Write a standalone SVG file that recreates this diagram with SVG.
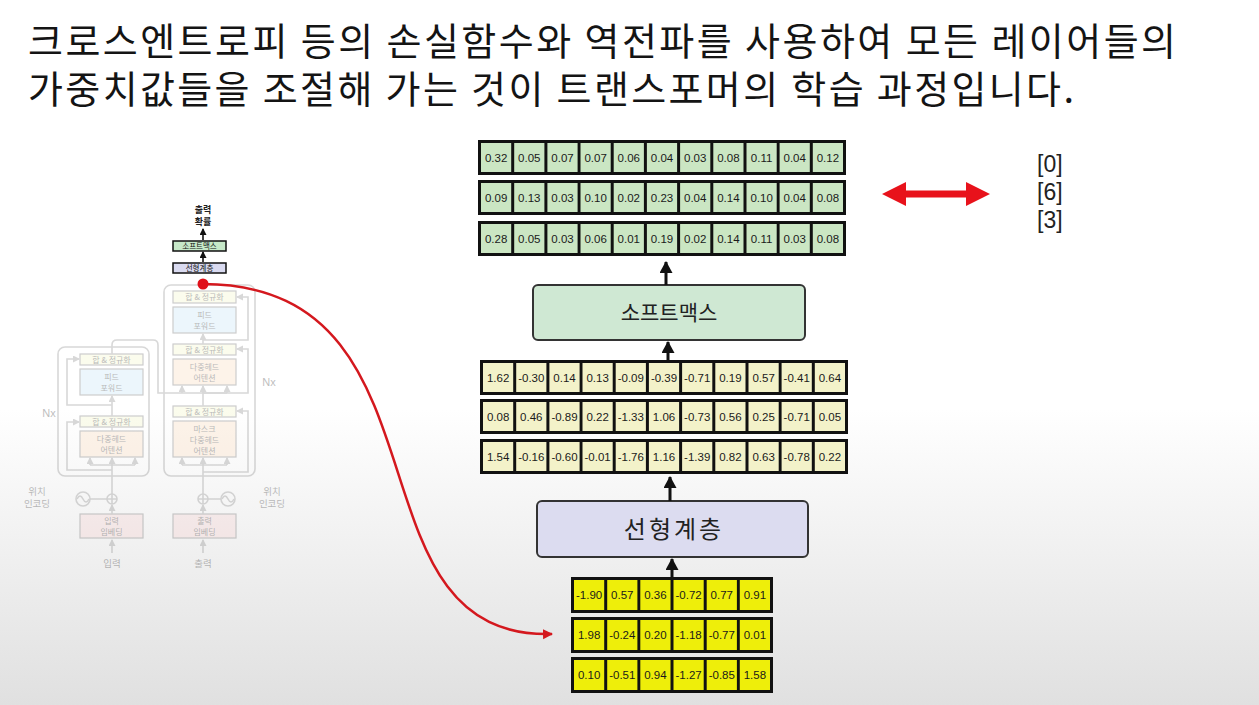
<svg xmlns="http://www.w3.org/2000/svg" width="1259" height="705" viewBox="0 0 1259 705">
<style>
.kr{font-family:"Noto Sans CJK KR","Noto Sans",sans-serif}
.title{font-size:38px;fill:#141414}
.cell{font-family:"Liberation Sans","Noto Sans",sans-serif;font-size:11.5px;fill:#1a1a1a;text-anchor:middle}
.bg{fill:#111}
.gc{fill:#cbe6c3}
.yc{fill:#f3f2c9}
.bc{fill:#eeee0a}
.arr{stroke:#111;stroke-width:3;fill:none}
.big{fill:#222;text-anchor:middle}
.fl{stroke:#888;stroke-width:1.6;fill:none}
.ft{font-family:"Noto Sans CJK KR",sans-serif;font-size:8px;fill:#222;text-anchor:middle}
.an{fill:#f3f6c8;stroke:#666;stroke-width:1.2}
.ff{fill:#c6e6f6;stroke:#666;stroke-width:1.2}
.mh{fill:#fbdcbd;stroke:#666;stroke-width:1.2}
.em{fill:#f6d0cf;stroke:#666;stroke-width:1.2}
.lab{font-family:"Noto Sans CJK KR",sans-serif;font-size:9.5px;fill:#333;text-anchor:middle}
.idx{font-family:"Liberation Sans","Noto Sans",sans-serif;font-size:23px;fill:#222}
</style>
<defs>
<linearGradient id="bgg" x1="0" y1="0" x2="0" y2="1">
<stop offset="0" stop-color="#ffffff"/>
<stop offset="0.58" stop-color="#ffffff"/>
<stop offset="1" stop-color="#e0e0e0"/>
</linearGradient>
<marker id="ah" markerUnits="userSpaceOnUse" markerWidth="14" markerHeight="14" refX="11" refY="6.5" orient="auto">
<path d="M0,0 L12,6.5 L0,13 z" fill="#111"/>
</marker>
<marker id="ahg" markerUnits="userSpaceOnUse" markerWidth="8" markerHeight="8" refX="6" refY="3.5" orient="auto">
<path d="M0,0 L7,3.5 L0,7 z" fill="#888"/>
</marker>
<marker id="ahs" markerUnits="userSpaceOnUse" markerWidth="8" markerHeight="8" refX="6" refY="3.5" orient="auto">
<path d="M0,0 L7,3.5 L0,7 z" fill="#111"/>
</marker>
<marker id="ahr" markerUnits="userSpaceOnUse" markerWidth="12" markerHeight="12" refX="9" refY="5" orient="auto">
<path d="M0,0 L10,5 L0,10 z" fill="#d4181e"/>
</marker>
</defs>
<rect width="1259" height="705" fill="url(#bgg)"/>

<g id="title">
<text class="kr title"><tspan x="28" y="55" textLength="1148" lengthAdjust="spacing">크로스엔트로피 등의 손실함수와 역전파를 사용하여 모든 레이어들의</tspan><tspan x="28" y="103" textLength="1046" lengthAdjust="spacing">가중치값들을 조절해 가는 것이 트랜스포머의 학습 과정입니다.</tspan></text>
</g>

<!-- faded transformer diagram -->
<g id="transformer-faded" opacity="0.32">
<rect x="58" y="347" width="91" height="129" rx="7" class="fl"/>
<rect x="164" y="285" width="91" height="191" rx="7" class="fl"/>
<g id="enc-an2"><rect x="80" y="354" width="63" height="11" class="an"/><text x="111.5" y="362.5" class="ft">합 &amp; 정규화</text></g>
<g id="enc-ff"><rect x="80" y="369" width="63" height="26" class="ff"/><text x="111.5" y="380" class="ft">피드</text><text x="111.5" y="391" class="ft">포워드</text></g>
<g id="enc-an1"><rect x="80" y="416" width="63" height="11" class="an"/><text x="111.5" y="424.5" class="ft">합 &amp; 정규화</text></g>
<g id="enc-mha"><rect x="80" y="431" width="63" height="26" class="mh"/><text x="111.5" y="442" class="ft">다중헤드</text><text x="111.5" y="453" class="ft">어텐션</text></g>
<g id="dec-an3"><rect x="173" y="291" width="63" height="12" class="an"/><text x="204.5" y="300" class="ft">합 &amp; 정규화</text></g>
<g id="dec-ff"><rect x="173" y="307" width="63" height="26" class="ff"/><text x="204.5" y="318" class="ft">피드</text><text x="204.5" y="329" class="ft">포워드</text></g>
<g id="dec-an2"><rect x="173" y="344" width="63" height="11" class="an"/><text x="204.5" y="352.5" class="ft">합 &amp; 정규화</text></g>
<g id="dec-mha"><rect x="173" y="359" width="63" height="26" class="mh"/><text x="204.5" y="370" class="ft">다중헤드</text><text x="204.5" y="381" class="ft">어텐션</text></g>
<g id="dec-an1"><rect x="173" y="406" width="63" height="11" class="an"/><text x="204.5" y="414.5" class="ft">합 &amp; 정규화</text></g>
<g id="dec-mmha"><rect x="173" y="421" width="63" height="36" class="mh"/><text x="204.5" y="432" class="ft">마스크</text><text x="204.5" y="443" class="ft">다중헤드</text><text x="204.5" y="454" class="ft">어텐션</text></g>
<g id="enc-emb"><rect x="80" y="514" width="63" height="24" class="em"/><text x="111.5" y="524" class="ft">입력</text><text x="111.5" y="535" class="ft">임베딩</text></g>
<g id="dec-emb"><rect x="173" y="514" width="63" height="24" class="em"/><text x="204.5" y="524" class="ft">출력</text><text x="204.5" y="535" class="ft">임베딩</text></g>
<g id="pe-enc"><circle cx="83" cy="499" r="7" class="fl"/><path d="M77,499 q3,-6 6,0 t6,0" class="fl"/><circle cx="112" cy="499" r="5" class="fl"/><path d="M107,499 h10 M112,494 v10" class="fl"/></g>
<g id="pe-dec"><circle cx="228" cy="499" r="7" class="fl"/><path d="M222,499 q3,-6 6,0 t6,0" class="fl"/><circle cx="203" cy="499" r="5" class="fl"/><path d="M198,499 h10 M203,494 v10" class="fl"/></g>
<g id="faded-labels">
<text x="49" y="417" class="lab" style="font-family:'Liberation Sans',sans-serif;font-size:11px">Nx</text>
<text x="269" y="386" class="lab" style="font-family:'Liberation Sans',sans-serif;font-size:11px">Nx</text>
<text x="37" y="495" class="lab">위치</text><text x="37" y="507" class="lab">인코딩</text>
<text x="272" y="495" class="lab">위치</text><text x="272" y="507" class="lab">인코딩</text>
<text x="112" y="567" class="lab">입력</text>
<text x="203" y="567" class="lab">출력</text>
</g>
<g id="faded-connectors">
<path d="M90,499 H107 M208,499 H221" class="fl"/>
<path d="M112,553 V540" class="fl" marker-end="url(#ahg)"/>
<path d="M203,553 V540" class="fl" marker-end="url(#ahg)"/>
<path d="M112,514 V505" class="fl" marker-end="url(#ahg)"/>
<path d="M203,514 V505" class="fl" marker-end="url(#ahg)"/>
<path d="M112,494 V465 M90,465 H135" class="fl"/>
<path d="M90,465 V458" class="fl" marker-end="url(#ahg)"/>
<path d="M112,465 V458" class="fl" marker-end="url(#ahg)"/>
<path d="M135,465 V458" class="fl" marker-end="url(#ahg)"/>
<path d="M112,470 H67 V422 H79" class="fl" marker-end="url(#ahg)"/>
<path d="M112,431 V427 M112,416 V396" class="fl" marker-end="url(#ahg)"/>
<path d="M112,405 H67 V359 H79" class="fl" marker-end="url(#ahg)"/>
<path d="M112,354 V345 Q112,340 117,340 H153 Q158,340 158,345 V393 H227" class="fl"/>
<path d="M203,494 V465 M182,465 H227" class="fl"/>
<path d="M182,465 V458" class="fl" marker-end="url(#ahg)"/>
<path d="M203,465 V458" class="fl" marker-end="url(#ahg)"/>
<path d="M227,465 V458" class="fl" marker-end="url(#ahg)"/>
<path d="M203,472 H248 V411 H237" class="fl" marker-end="url(#ahg)"/>
<path d="M203,406 V393 H248 V349 H237" class="fl" marker-end="url(#ahg)"/>
<path d="M182,393 V386" class="fl" marker-end="url(#ahg)"/>
<path d="M203,393 V386" class="fl" marker-end="url(#ahg)"/>
<path d="M227,393 V386" class="fl" marker-end="url(#ahg)"/>
<path d="M203,344 V334" class="fl" marker-end="url(#ahg)"/>
<path d="M203,340 H248 V297 H237" class="fl" marker-end="url(#ahg)"/>
</g>
</g>

<!-- top of small diagram (full opacity) -->
<g id="small-output">
<text x="203" y="213" class="kr" style="font-size:9px;font-weight:bold;fill:#222;text-anchor:middle">출력</text>
<text x="203" y="225" class="kr" style="font-size:9px;font-weight:bold;fill:#222;text-anchor:middle">확률</text>
</g>
<g id="small-softmax"><rect x="173" y="241" width="53" height="10" fill="#c6e8c8" stroke="#111" stroke-width="1.5"/><text x="199.5" y="249" class="kr" style="font-size:7.5px;fill:#111;text-anchor:middle">소프트맥스</text></g>
<g id="small-linear"><rect x="173" y="263" width="53" height="10" fill="#d9daf0" stroke="#111" stroke-width="1.5"/><text x="199.5" y="271" class="kr" style="font-size:7.5px;fill:#111;text-anchor:middle">선형계층</text></g>
<g id="small-connectors">
<path d="M203,240 V229" stroke="#111" stroke-width="1.6" marker-end="url(#ahs)"/>
<path d="M203,262 V252" stroke="#111" stroke-width="1.6" marker-end="url(#ahs)"/>
</g>

<!-- green probability rows -->
<g id="prob-rows">
<g id="prob-row1"><rect x="478" y="140" width="368" height="35" class="bg"/>
<rect x="481" y="143" width="30.2" height="29" class="gc"/><rect x="514.2" y="143" width="30.2" height="29" class="gc"/><rect x="547.4" y="143" width="30.2" height="29" class="gc"/><rect x="580.5" y="143" width="30.2" height="29" class="gc"/><rect x="613.7" y="143" width="30.2" height="29" class="gc"/><rect x="646.9" y="143" width="30.2" height="29" class="gc"/><rect x="680.1" y="143" width="30.2" height="29" class="gc"/><rect x="713.3" y="143" width="30.2" height="29" class="gc"/><rect x="746.5" y="143" width="30.2" height="29" class="gc"/><rect x="779.6" y="143" width="30.2" height="29" class="gc"/><rect x="812.8" y="143" width="30.2" height="29" class="gc"/>
<text y="161.5" class="cell"><tspan x="496.1">0.32</tspan><tspan x="529.3">0.05</tspan><tspan x="562.5">0.07</tspan><tspan x="595.6">0.07</tspan><tspan x="628.8">0.06</tspan><tspan x="662">0.04</tspan><tspan x="695.2">0.03</tspan><tspan x="728.4">0.08</tspan><tspan x="761.6">0.11</tspan><tspan x="794.7">0.04</tspan><tspan x="827.9">0.12</tspan></text></g>
<g id="prob-row2"><rect x="478" y="180" width="368" height="35" class="bg"/>
<rect x="481" y="183" width="30.2" height="29" class="gc"/><rect x="514.2" y="183" width="30.2" height="29" class="gc"/><rect x="547.4" y="183" width="30.2" height="29" class="gc"/><rect x="580.5" y="183" width="30.2" height="29" class="gc"/><rect x="613.7" y="183" width="30.2" height="29" class="gc"/><rect x="646.9" y="183" width="30.2" height="29" class="gc"/><rect x="680.1" y="183" width="30.2" height="29" class="gc"/><rect x="713.3" y="183" width="30.2" height="29" class="gc"/><rect x="746.5" y="183" width="30.2" height="29" class="gc"/><rect x="779.6" y="183" width="30.2" height="29" class="gc"/><rect x="812.8" y="183" width="30.2" height="29" class="gc"/>
<text y="201.5" class="cell"><tspan x="496.1">0.09</tspan><tspan x="529.3">0.13</tspan><tspan x="562.5">0.03</tspan><tspan x="595.6">0.10</tspan><tspan x="628.8">0.02</tspan><tspan x="662">0.23</tspan><tspan x="695.2">0.04</tspan><tspan x="728.4">0.14</tspan><tspan x="761.6">0.10</tspan><tspan x="794.7">0.04</tspan><tspan x="827.9">0.08</tspan></text></g>
<g id="prob-row3"><rect x="478" y="221" width="368" height="35" class="bg"/>
<rect x="481" y="224" width="30.2" height="29" class="gc"/><rect x="514.2" y="224" width="30.2" height="29" class="gc"/><rect x="547.4" y="224" width="30.2" height="29" class="gc"/><rect x="580.5" y="224" width="30.2" height="29" class="gc"/><rect x="613.7" y="224" width="30.2" height="29" class="gc"/><rect x="646.9" y="224" width="30.2" height="29" class="gc"/><rect x="680.1" y="224" width="30.2" height="29" class="gc"/><rect x="713.3" y="224" width="30.2" height="29" class="gc"/><rect x="746.5" y="224" width="30.2" height="29" class="gc"/><rect x="779.6" y="224" width="30.2" height="29" class="gc"/><rect x="812.8" y="224" width="30.2" height="29" class="gc"/>
<text y="242.5" class="cell"><tspan x="496.1">0.28</tspan><tspan x="529.3">0.05</tspan><tspan x="562.5">0.03</tspan><tspan x="595.6">0.06</tspan><tspan x="628.8">0.01</tspan><tspan x="662">0.19</tspan><tspan x="695.2">0.02</tspan><tspan x="728.4">0.14</tspan><tspan x="761.6">0.11</tspan><tspan x="794.7">0.03</tspan><tspan x="827.9">0.08</tspan></text></g>
</g>

<g id="softmax"><rect x="533" y="285" width="272" height="55" rx="5" fill="#cfe8d3" stroke="#333" stroke-width="2"/><text x="669" y="320" class="kr big" style="font-size:21px">소프트맥스</text></g>

<!-- logits rows -->
<g id="logit-rows">
<g id="logit-row1"><rect x="480" y="360" width="368" height="35" class="bg"/>
<rect x="483" y="363" width="30.2" height="29" class="yc"/><rect x="516.2" y="363" width="30.2" height="29" class="yc"/><rect x="549.4" y="363" width="30.2" height="29" class="yc"/><rect x="582.5" y="363" width="30.2" height="29" class="yc"/><rect x="615.7" y="363" width="30.2" height="29" class="yc"/><rect x="648.9" y="363" width="30.2" height="29" class="yc"/><rect x="682.1" y="363" width="30.2" height="29" class="yc"/><rect x="715.3" y="363" width="30.2" height="29" class="yc"/><rect x="748.5" y="363" width="30.2" height="29" class="yc"/><rect x="781.6" y="363" width="30.2" height="29" class="yc"/><rect x="814.8" y="363" width="30.2" height="29" class="yc"/>
<text y="381.5" class="cell"><tspan x="498.1">1.62</tspan><tspan x="531.3">-0.30</tspan><tspan x="564.5">0.14</tspan><tspan x="597.6">0.13</tspan><tspan x="630.8">-0.09</tspan><tspan x="664">-0.39</tspan><tspan x="697.2">-0.71</tspan><tspan x="730.4">0.19</tspan><tspan x="763.6">0.57</tspan><tspan x="796.7">-0.41</tspan><tspan x="829.9">0.64</tspan></text></g>
<g id="logit-row2"><rect x="480" y="399" width="368" height="35" class="bg"/>
<rect x="483" y="402" width="30.2" height="29" class="yc"/><rect x="516.2" y="402" width="30.2" height="29" class="yc"/><rect x="549.4" y="402" width="30.2" height="29" class="yc"/><rect x="582.5" y="402" width="30.2" height="29" class="yc"/><rect x="615.7" y="402" width="30.2" height="29" class="yc"/><rect x="648.9" y="402" width="30.2" height="29" class="yc"/><rect x="682.1" y="402" width="30.2" height="29" class="yc"/><rect x="715.3" y="402" width="30.2" height="29" class="yc"/><rect x="748.5" y="402" width="30.2" height="29" class="yc"/><rect x="781.6" y="402" width="30.2" height="29" class="yc"/><rect x="814.8" y="402" width="30.2" height="29" class="yc"/>
<text y="420.5" class="cell"><tspan x="498.1">0.08</tspan><tspan x="531.3">0.46</tspan><tspan x="564.5">-0.89</tspan><tspan x="597.6">0.22</tspan><tspan x="630.8">-1.33</tspan><tspan x="664">1.06</tspan><tspan x="697.2">-0.73</tspan><tspan x="730.4">0.56</tspan><tspan x="763.6">0.25</tspan><tspan x="796.7">-0.71</tspan><tspan x="829.9">0.05</tspan></text></g>
<g id="logit-row3"><rect x="480" y="439" width="368" height="35" class="bg"/>
<rect x="483" y="442" width="30.2" height="29" class="yc"/><rect x="516.2" y="442" width="30.2" height="29" class="yc"/><rect x="549.4" y="442" width="30.2" height="29" class="yc"/><rect x="582.5" y="442" width="30.2" height="29" class="yc"/><rect x="615.7" y="442" width="30.2" height="29" class="yc"/><rect x="648.9" y="442" width="30.2" height="29" class="yc"/><rect x="682.1" y="442" width="30.2" height="29" class="yc"/><rect x="715.3" y="442" width="30.2" height="29" class="yc"/><rect x="748.5" y="442" width="30.2" height="29" class="yc"/><rect x="781.6" y="442" width="30.2" height="29" class="yc"/><rect x="814.8" y="442" width="30.2" height="29" class="yc"/>
<text y="460.5" class="cell"><tspan x="498.1">1.54</tspan><tspan x="531.3">-0.16</tspan><tspan x="564.5">-0.60</tspan><tspan x="597.6">-0.01</tspan><tspan x="630.8">-1.76</tspan><tspan x="664">1.16</tspan><tspan x="697.2">-1.39</tspan><tspan x="730.4">0.82</tspan><tspan x="763.6">0.63</tspan><tspan x="796.7">-0.78</tspan><tspan x="829.9">0.22</tspan></text></g>
</g>

<g id="linear"><rect x="537" y="501" width="271" height="56" rx="5" fill="#dcdcf0" stroke="#333" stroke-width="2"/><text x="674" y="538" class="kr big" style="font-size:24px;letter-spacing:3px">선형계층</text></g>

<!-- decoder output rows -->
<g id="dec-rows">
<g id="dec-row1"><rect x="571" y="577" width="202" height="36" class="bg"/>
<rect x="574" y="580" width="30.2" height="30" class="bc"/><rect x="607.2" y="580" width="30.2" height="30" class="bc"/><rect x="640.3" y="580" width="30.2" height="30" class="bc"/><rect x="673.5" y="580" width="30.2" height="30" class="bc"/><rect x="706.7" y="580" width="30.2" height="30" class="bc"/><rect x="739.8" y="580" width="30.2" height="30" class="bc"/>
<text y="599" class="cell"><tspan x="589.1">-1.90</tspan><tspan x="622.3">0.57</tspan><tspan x="655.4">0.36</tspan><tspan x="688.6">-0.72</tspan><tspan x="721.8">0.77</tspan><tspan x="754.9">0.91</tspan></text></g>
<g id="dec-row2"><rect x="571" y="617" width="202" height="36" class="bg"/>
<rect x="574" y="620" width="30.2" height="30" class="bc"/><rect x="607.2" y="620" width="30.2" height="30" class="bc"/><rect x="640.3" y="620" width="30.2" height="30" class="bc"/><rect x="673.5" y="620" width="30.2" height="30" class="bc"/><rect x="706.7" y="620" width="30.2" height="30" class="bc"/><rect x="739.8" y="620" width="30.2" height="30" class="bc"/>
<text y="639" class="cell"><tspan x="589.1">1.98</tspan><tspan x="622.3">-0.24</tspan><tspan x="655.4">0.20</tspan><tspan x="688.6">-1.18</tspan><tspan x="721.8">-0.77</tspan><tspan x="754.9">0.01</tspan></text></g>
<g id="dec-row3"><rect x="571" y="657" width="202" height="36" class="bg"/>
<rect x="574" y="660" width="30.2" height="30" class="bc"/><rect x="607.2" y="660" width="30.2" height="30" class="bc"/><rect x="640.3" y="660" width="30.2" height="30" class="bc"/><rect x="673.5" y="660" width="30.2" height="30" class="bc"/><rect x="706.7" y="660" width="30.2" height="30" class="bc"/><rect x="739.8" y="660" width="30.2" height="30" class="bc"/>
<text y="679" class="cell"><tspan x="589.1">0.10</tspan><tspan x="622.3">-0.51</tspan><tspan x="655.4">0.94</tspan><tspan x="688.6">-1.27</tspan><tspan x="721.8">-0.85</tspan><tspan x="754.9">1.58</tspan></text></g>
</g>

<g id="labels-right" class="idx">
<text x="1037" y="172">[0]</text>
<text x="1037" y="200">[6]</text>
<text x="1037" y="228">[3]</text>
</g>

<g id="connectors">
<path d="M672,577 V559" class="arr" marker-end="url(#ah)"/>
<path d="M670,501 V477" class="arr" marker-end="url(#ah)"/>
<path d="M668,360 V342" class="arr" marker-end="url(#ah)"/>
<path d="M666,285 V262" class="arr" marker-end="url(#ah)"/>
<path d="M203,284 C460,285 340,640 552,634" fill="none" stroke="#d4181e" stroke-width="2.5" marker-end="url(#ahr)"/>
<circle cx="203" cy="284" r="5.5" fill="#e0101a"/>
<polygon points="882,194 906,182 906,190.5 966,190.5 966,182 990,194 966,206 966,197.5 906,197.5 906,206" fill="#e8121b"/>
</g>
</svg>
